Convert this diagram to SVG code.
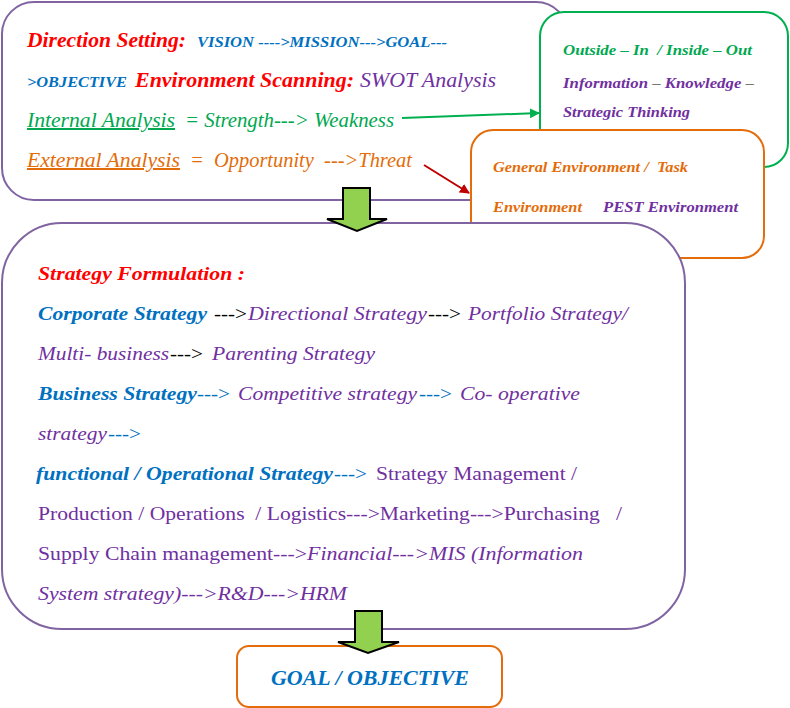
<svg xmlns="http://www.w3.org/2000/svg" width="790" height="708" viewBox="0 0 790 708" font-family="'Liberation Serif', 'Times New Roman', serif">
<defs>
<marker id="mg" viewBox="0 0 10 10" refX="9" refY="5" markerWidth="5" markerHeight="5" orient="auto" markerUnits="strokeWidth"><path d="M0,0 L10,5 L0,10 Z" fill="#00B050"/></marker>
<marker id="mr" viewBox="0 0 10 10" refX="9" refY="5" markerWidth="5" markerHeight="5" orient="auto" markerUnits="strokeWidth"><path d="M0,0 L10,5 L0,10 Z" fill="#C00000"/></marker>
<style>
text{font-family:'Liberation Serif','Times New Roman',serif}
.box{fill:#fff;stroke-width:2}
.pbox{stroke:#8064A2}
.gbox{stroke:#00B050}
.obox{stroke:#E46C0A}
.bi{font-weight:bold;font-style:italic}
.i{font-style:italic}
.n{font-weight:normal;font-style:normal}
.red{fill:#FF0000}
.blue{fill:#0070C0}
.pur{fill:#7030A0}
.grn{fill:#00A850}
.org{fill:#E36C09}
.blk{fill:#000}
.s20{font-size:20px}
.s19{font-size:19px}
.s14{font-size:14px}
.u{text-decoration:underline}
.blockarrow{fill:#92D050;stroke:#000;stroke-width:2;stroke-linejoin:miter}
</style>
</defs>

<g id="environment-box">
<rect class="box pbox" x="2" y="2" width="566" height="198" rx="32"/>
<text class="s20 bi red" x="27" y="47" textLength="159" lengthAdjust="spacingAndGlyphs">Direction Setting:</text>
<text class="s14 bi blue" x="197" y="47" textLength="250" lengthAdjust="spacingAndGlyphs">VISION ----&gt;MISSION---&gt;GOAL---</text>
<text class="s14 bi blue" x="27" y="87" textLength="100" lengthAdjust="spacingAndGlyphs">&gt;OBJECTIVE</text>
<text class="s20 bi red" x="135" y="87" textLength="219" lengthAdjust="spacingAndGlyphs">Environment Scanning:</text>
<text class="s20 i pur" x="360" y="87" textLength="136" lengthAdjust="spacingAndGlyphs">SWOT Analysis</text>
<text class="s20 i grn u" x="27" y="127" textLength="148" lengthAdjust="spacingAndGlyphs">Internal Analysis</text>
<text class="s20 i grn" x="185" y="127" textLength="209" lengthAdjust="spacingAndGlyphs">= Strength---&gt; Weakness</text>
<text class="s20 i org u" x="27" y="167" textLength="153" lengthAdjust="spacingAndGlyphs">External Analysis</text>
<text class="s20 i org" x="190" y="167" textLength="222" lengthAdjust="spacingAndGlyphs" xml:space="preserve">=  Opportunity  ---&gt;Threat</text>
</g>

<g id="thinking-box">
<rect class="box gbox" x="540" y="12" width="248" height="155" rx="24"/>
<text class="s14 bi grn" x="563" y="55" textLength="189" lengthAdjust="spacingAndGlyphs" xml:space="preserve">Outside – In  / Inside – Out</text>
<text class="s14 bi pur" x="563" y="88" textLength="191" lengthAdjust="spacingAndGlyphs">Information <tspan class="n blk">–</tspan> Knowledge <tspan class="n blk">–</tspan></text>
<text class="s14 bi pur" x="563" y="117" textLength="127" lengthAdjust="spacingAndGlyphs">Strategic Thinking</text>
</g>

<g id="environment-types-box">
<rect class="box obox" x="471" y="130" width="293" height="128" rx="22"/>
<text class="s14 bi org" x="493" y="172" textLength="195" lengthAdjust="spacingAndGlyphs" xml:space="preserve">General Environment /  Task</text>
<text class="s14 bi org" x="493" y="212" textLength="89" lengthAdjust="spacingAndGlyphs">Environment</text>
<text class="s14 bi pur" x="603" y="212" textLength="135" lengthAdjust="spacingAndGlyphs">PEST Environment</text>
</g>

<g id="formulation-box">
<rect class="box pbox" x="2" y="223" width="683" height="406" rx="60"/>
<text class="s19 bi red" x="38" y="280" textLength="207" lengthAdjust="spacingAndGlyphs">Strategy Formulation :</text>
<text class="s19 bi blue" x="38" y="320" textLength="169" lengthAdjust="spacingAndGlyphs">Corporate Strategy</text>
<text class="s19 blk" x="214" y="320" textLength="33" lengthAdjust="spacingAndGlyphs">---&gt;</text>
<text class="s19 i pur" x="248" y="320" textLength="179" lengthAdjust="spacingAndGlyphs">Directional Strategy</text>
<text class="s19 blk" x="428" y="320" textLength="33" lengthAdjust="spacingAndGlyphs">---&gt;</text>
<text class="s19 i pur" x="468" y="320" textLength="160" lengthAdjust="spacingAndGlyphs">Portfolio Strategy/</text>
<text class="s19 i pur" x="38" y="360" textLength="131" lengthAdjust="spacingAndGlyphs">Multi- business</text>
<text class="s19 blk" x="170" y="360" textLength="33" lengthAdjust="spacingAndGlyphs">---&gt;</text>
<text class="s19 i pur" x="212" y="360" textLength="163" lengthAdjust="spacingAndGlyphs">Parenting Strategy</text>
<text class="s19 bi blue" x="38" y="400" textLength="159" lengthAdjust="spacingAndGlyphs">Business Strategy</text>
<text class="s19 blue" x="197" y="400" textLength="33" lengthAdjust="spacingAndGlyphs">---&gt;</text>
<text class="s19 i pur" x="238" y="400" textLength="179" lengthAdjust="spacingAndGlyphs">Competitive strategy</text>
<text class="s19 blue" x="419" y="400" textLength="33" lengthAdjust="spacingAndGlyphs">---&gt;</text>
<text class="s19 i pur" x="460" y="400" textLength="120" lengthAdjust="spacingAndGlyphs">Co- operative</text>
<text class="s19 i pur" x="38" y="440" textLength="69" lengthAdjust="spacingAndGlyphs">strategy</text>
<text class="s19 blue" x="108" y="440" textLength="33" lengthAdjust="spacingAndGlyphs">---&gt;</text>
<text class="s19 bi blue" x="36" y="480" textLength="297" lengthAdjust="spacingAndGlyphs">functional / Operational Strategy</text>
<text class="s19 blue" x="334" y="480" textLength="33" lengthAdjust="spacingAndGlyphs">---&gt;</text>
<text class="s19 pur" x="376" y="480" textLength="201" lengthAdjust="spacingAndGlyphs">Strategy Management /</text>
<text class="s19 pur" x="38" y="520" textLength="584" lengthAdjust="spacingAndGlyphs" xml:space="preserve">Production / Operations  / Logistics---&gt;Marketing---&gt;Purchasing   /</text>
<text class="s19 pur" x="38" y="560" textLength="269" lengthAdjust="spacingAndGlyphs">Supply Chain management---&gt;</text>
<text class="s19 i pur" x="307" y="560" textLength="276" lengthAdjust="spacingAndGlyphs">Financial---&gt;MIS (Information</text>
<text class="s19 i pur" x="38" y="600" textLength="309" lengthAdjust="spacingAndGlyphs">System strategy)---&gt;R&amp;D---&gt;HRM</text>
</g>

<g id="goal-box">
<rect class="box obox" x="237" y="646" width="265" height="61" rx="12"/>
<text class="s20 bi blue" x="271" y="685" textLength="198" lengthAdjust="spacingAndGlyphs">GOAL / OBJECTIVE</text>
</g>

<g id="connectors">
<line x1="402" y1="118" x2="539" y2="113" stroke="#00B050" stroke-width="2" marker-end="url(#mg)"/>
<line x1="424" y1="165" x2="469" y2="193" stroke="#C00000" stroke-width="2" marker-end="url(#mr)"/>
<path class="blockarrow" d="M343,188 H370 V219 H387 L357,231 L327,219 H343 Z"/>
<path class="blockarrow" d="M355,611 H382 V642 H399 L368,653 L338,642 H355 Z"/>
</g>
</svg>
